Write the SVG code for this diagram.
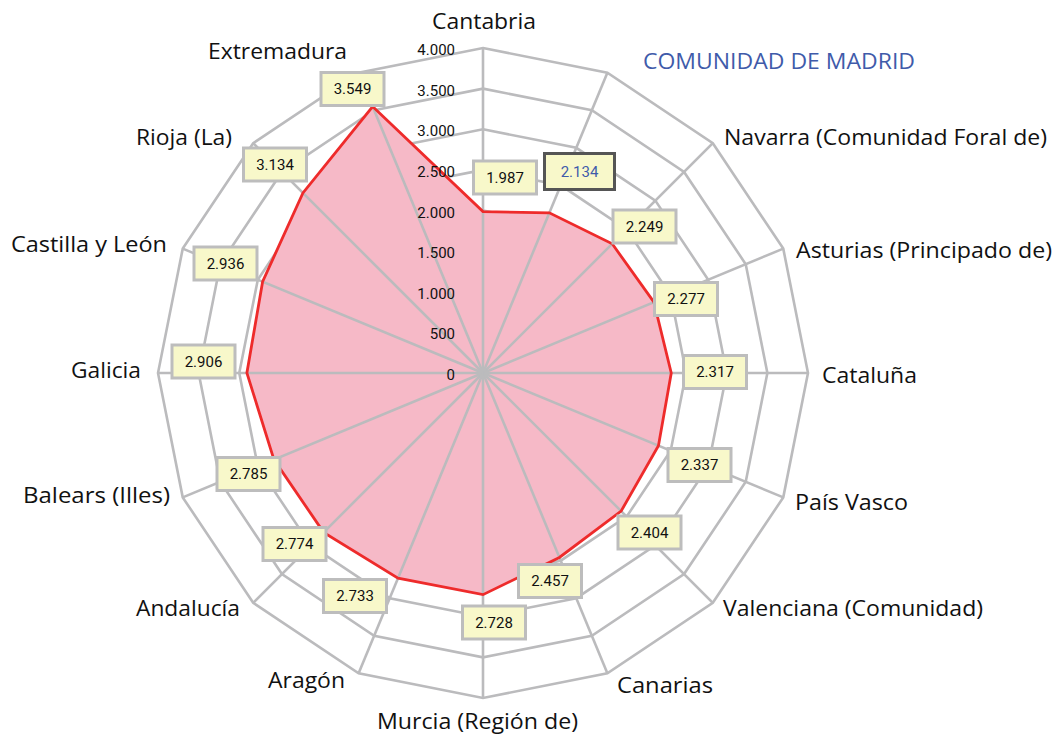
<svg xmlns="http://www.w3.org/2000/svg" width="1055" height="735" viewBox="0 0 1055 735">
<style>
.grid{fill:none;stroke:#BBBBBD;stroke-width:2.6;stroke-linejoin:miter}
.axis{stroke:#BBBBBD;stroke-width:2.6}
.area{fill:#F6B9C7;stroke:none}
.line{fill:none;stroke:#EE2B2B;stroke-width:2.8;stroke-linejoin:miter}
.lbl{font-family:"Open Sans","Noto Sans",sans-serif;font-size:22.5px;fill:#111}
.tick{font-family:Roboto,"Liberation Sans",sans-serif;font-size:15px;fill:#111;text-anchor:end}
.box{fill:#F8F8CA;stroke:#BDBDBD;stroke-width:3}
.boxsel{fill:#F8F8CA;stroke:#555555;stroke-width:3}
.val{font-family:Roboto,"Liberation Sans",sans-serif;font-size:15px;fill:#111;text-anchor:middle}
.valsel{font-family:Roboto,"Liberation Sans",sans-serif;font-size:15px;fill:#3F5BAA;text-anchor:middle}
</style>
<rect width="1055" height="735" fill="#FFFFFF"/>
<g id="connectors">
<g id="rings">
<polygon class="grid" points="483,48 607.37,72.74 712.81,143.19 783.26,248.63 808,373 783.26,497.37 712.81,602.81 607.37,673.26 483,698 358.63,673.26 253.19,602.81 182.74,497.37 158,373 182.74,248.63 253.19,143.19 358.63,72.74"/>
<polygon class="grid" points="483,88.63 591.83,110.27 684.08,171.92 745.73,264.17 767.38,373 745.73,481.83 684.08,574.08 591.83,635.73 483,657.38 374.17,635.73 281.92,574.08 220.27,481.83 198.63,373 220.27,264.17 281.92,171.92 374.17,110.27"/>
<polygon class="grid" points="483,129.25 576.28,147.8 655.36,200.64 708.2,279.72 726.75,373 708.2,466.28 655.36,545.36 576.28,598.2 483,616.75 389.72,598.2 310.64,545.36 257.8,466.28 239.25,373 257.8,279.72 310.64,200.64 389.72,147.8"/>
<polygon class="grid" points="483,169.88 560.73,185.34 626.63,229.37 670.66,295.27 686.13,373 670.66,450.73 626.63,516.63 560.73,560.66 483,576.13 405.27,560.66 339.37,516.63 295.34,450.73 279.88,373 295.34,295.27 339.37,229.37 405.27,185.34"/>
<polygon class="grid" points="483,210.5 545.19,222.87 597.91,258.09 633.13,310.81 645.5,373 633.13,435.19 597.91,487.91 545.19,523.13 483,535.5 420.81,523.13 368.09,487.91 332.87,435.19 320.5,373 332.87,310.81 368.09,258.09 420.81,222.87"/>
<polygon class="grid" points="483,251.13 529.64,260.4 569.18,286.82 595.6,326.36 604.88,373 595.6,419.64 569.18,459.18 529.64,485.6 483,494.88 436.36,485.6 396.82,459.18 370.4,419.64 361.13,373 370.4,326.36 396.82,286.82 436.36,260.4"/>
<polygon class="grid" points="483,291.75 514.09,297.93 540.45,315.55 558.07,341.91 564.25,373 558.07,404.09 540.45,430.45 514.09,448.07 483,454.25 451.91,448.07 425.55,430.45 407.93,404.09 401.75,373 407.93,341.91 425.55,315.55 451.91,297.93"/>
<polygon class="grid" points="483,332.38 498.55,335.47 511.73,344.27 520.53,357.45 523.63,373 520.53,388.55 511.73,401.73 498.55,410.53 483,413.63 467.45,410.53 454.27,401.73 445.47,388.55 442.38,373 445.47,357.45 454.27,344.27 467.45,335.47"/>
</g>
<polygon class="area" points="483,211.56 549.35,212.81 612.21,243.79 653.93,302.2 671.26,373 658.43,445.66 621.12,511.12 559.39,557.43 483,594.65 398.02,578.16 323.63,532.37 273.94,459.59 246.89,373 262.61,281.71 302.94,192.94 372.65,106.59"/>
<g id="spokes">
<line class="axis" x1="483" y1="373" x2="483" y2="48"/>
<line class="axis" x1="483" y1="373" x2="607.37" y2="72.74"/>
<line class="axis" x1="483" y1="373" x2="712.81" y2="143.19"/>
<line class="axis" x1="483" y1="373" x2="783.26" y2="248.63"/>
<line class="axis" x1="483" y1="373" x2="808" y2="373"/>
<line class="axis" x1="483" y1="373" x2="783.26" y2="497.37"/>
<line class="axis" x1="483" y1="373" x2="712.81" y2="602.81"/>
<line class="axis" x1="483" y1="373" x2="607.37" y2="673.26"/>
<line class="axis" x1="483" y1="373" x2="483" y2="698"/>
<line class="axis" x1="483" y1="373" x2="358.63" y2="673.26"/>
<line class="axis" x1="483" y1="373" x2="253.19" y2="602.81"/>
<line class="axis" x1="483" y1="373" x2="182.74" y2="497.37"/>
<line class="axis" x1="483" y1="373" x2="158" y2="373"/>
<line class="axis" x1="483" y1="373" x2="182.74" y2="248.63"/>
<line class="axis" x1="483" y1="373" x2="253.19" y2="143.19"/>
<line class="axis" x1="483" y1="373" x2="358.63" y2="72.74"/>
</g>
<polygon class="line" points="483,211.56 549.35,212.81 612.21,243.79 653.93,302.2 671.26,373 658.43,445.66 621.12,511.12 559.39,557.43 483,594.65 398.02,578.16 323.63,532.37 273.94,459.59 246.89,373 262.61,281.71 302.94,192.94 372.65,106.59"/>
</g>
<g id="scale">
<text class="tick" x="455" y="380">0</text>
<text class="tick" x="455" y="339.4">500</text>
<text class="tick" x="455" y="298.8">1.000</text>
<text class="tick" x="455" y="258.1">1.500</text>
<text class="tick" x="455" y="217.5">2.000</text>
<text class="tick" x="455" y="176.9">2.500</text>
<text class="tick" x="455" y="136.3">3.000</text>
<text class="tick" x="455" y="95.6">3.500</text>
<text class="tick" x="455" y="55">4.000</text>
</g>
<g id="cantabria"><text class="lbl" x="432" y="29" textLength="104" lengthAdjust="spacingAndGlyphs">Cantabria</text><rect class="box" x="473.5" y="161" width="63" height="33"/><text class="val" x="505" y="182.5">1.987</text></g>
<g id="madrid"><text class="lbl" x="643" y="69" textLength="272" lengthAdjust="spacingAndGlyphs" style="fill:#3F5BAA">COMUNIDAD DE MADRID</text><rect class="boxsel" x="544.5" y="153.5" width="70" height="36"/><text class="valsel" x="579.5" y="176.5">2.134</text></g>
<g id="navarra"><text class="lbl" x="724" y="145" textLength="323" lengthAdjust="spacingAndGlyphs">Navarra (Comunidad Foral de)</text><rect class="box" x="613" y="210" width="63" height="33"/><text class="val" x="644.5" y="231.5">2.249</text></g>
<g id="asturias"><text class="lbl" x="796" y="258" textLength="256" lengthAdjust="spacingAndGlyphs">Asturias (Principado de)</text><rect class="box" x="654.5" y="282.5" width="63" height="33"/><text class="val" x="686" y="304">2.277</text></g>
<g id="cataluna"><text class="lbl" x="822" y="383" textLength="95" lengthAdjust="spacingAndGlyphs">Cataluña</text><rect class="box" x="683.5" y="355.5" width="63" height="33"/><text class="val" x="715" y="377">2.317</text></g>
<g id="pais-vasco"><text class="lbl" x="795" y="510" textLength="113" lengthAdjust="spacingAndGlyphs">País Vasco</text><rect class="box" x="668" y="448.5" width="63" height="33"/><text class="val" x="699.5" y="470">2.337</text></g>
<g id="valenciana"><text class="lbl" x="723" y="616" textLength="260" lengthAdjust="spacingAndGlyphs">Valenciana (Comunidad)</text><rect class="box" x="618" y="516" width="63" height="33"/><text class="val" x="649.5" y="537.5">2.404</text></g>
<g id="canarias"><text class="lbl" x="617" y="693" textLength="96" lengthAdjust="spacingAndGlyphs">Canarias</text><rect class="box" x="518.5" y="564.5" width="63" height="33"/><text class="val" x="550" y="586">2.457</text></g>
<g id="murcia"><text class="lbl" x="377" y="729" textLength="201" lengthAdjust="spacingAndGlyphs">Murcia (Región de)</text><rect class="box" x="462.5" y="606" width="63" height="33"/><text class="val" x="494" y="627.5">2.728</text></g>
<g id="aragon"><text class="lbl" x="268" y="688" textLength="77" lengthAdjust="spacingAndGlyphs">Aragón</text><rect class="box" x="323.5" y="579.5" width="63" height="33"/><text class="val" x="355" y="601">2.733</text></g>
<g id="andalucia"><text class="lbl" x="136" y="616" textLength="104" lengthAdjust="spacingAndGlyphs">Andalucía</text><rect class="box" x="263" y="527.5" width="63" height="33"/><text class="val" x="294.5" y="549">2.774</text></g>
<g id="balears"><text class="lbl" x="23" y="503" textLength="147" lengthAdjust="spacingAndGlyphs">Balears (Illes)</text><rect class="box" x="217" y="457.5" width="63" height="33"/><text class="val" x="248.5" y="479">2.785</text></g>
<g id="galicia"><text class="lbl" x="71" y="378" textLength="70" lengthAdjust="spacingAndGlyphs">Galicia</text><rect class="box" x="172" y="345" width="63" height="33"/><text class="val" x="203.5" y="366.5">2.906</text></g>
<g id="castilla-leon"><text class="lbl" x="11" y="252" textLength="156" lengthAdjust="spacingAndGlyphs">Castilla y León</text><rect class="box" x="194" y="247" width="63" height="33"/><text class="val" x="225.5" y="268.5">2.936</text></g>
<g id="rioja"><text class="lbl" x="136" y="145" textLength="96" lengthAdjust="spacingAndGlyphs">Rioja (La)</text><rect class="box" x="243.5" y="148" width="63" height="33"/><text class="val" x="275" y="169.5">3.134</text></g>
<g id="extremadura"><text class="lbl" x="208" y="59" textLength="139" lengthAdjust="spacingAndGlyphs">Extremadura</text><rect class="box" x="321" y="72.5" width="63" height="33"/><text class="val" x="352.5" y="94">3.549</text></g>
</svg>
